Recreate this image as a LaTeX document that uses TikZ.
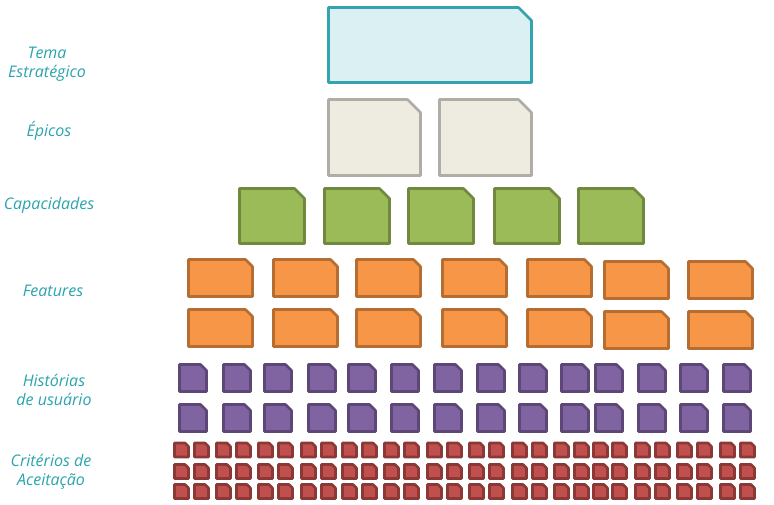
\documentclass[tikz,border=0pt]{standalone}
\usepackage{fontspec}
\setmainfont{Open Sans}
\usetikzlibrary{backgrounds}

\definecolor{labelteal}{HTML}{2AA4AE}
\definecolor{temafill}{HTML}{DAF0F3}
\definecolor{temaline}{HTML}{35A3AD}
\definecolor{epicofill}{HTML}{EEECE1}
\definecolor{epicoline}{HTML}{B0ADA6}
\definecolor{capfill}{HTML}{9BBB59}
\definecolor{capline}{HTML}{71893F}
\definecolor{featfill}{HTML}{F79646}
\definecolor{featline}{HTML}{B66D31}
\definecolor{storyfill}{HTML}{8064A2}
\definecolor{storyline}{HTML}{5C4776}
\definecolor{critfill}{HTML}{C0504D}
\definecolor{critline}{HTML}{8C3836}

\tikzset{
	% card with the top right corner cut off: fill, line, cut
	card/.style n args={3}{rectangle, inner sep=0pt, outer sep=0pt,
		append after command={\pgfextra{\draw[line width=2.6pt, line join=round, fill=#1, draw=#2]
			(\tikzlastnode.south west) -- (\tikzlastnode.north west)
			-- ([xshift=-#3]\tikzlastnode.north east) -- ([yshift=-#3]\tikzlastnode.north east)
			-- (\tikzlastnode.south east) -- cycle;}}},
	level/.style={text=labelteal, align=center, font=\itshape\fontsize{16}{19}\selectfont},
}

\begin{document}
\begin{tikzpicture}[x=1pt, y=-1pt, background rectangle/.style={fill=white}, show background rectangle, inner frame sep=0pt]

	\useasboundingbox (0,0) rectangle (774,505);

	% styles of the six levels
	\tikzset{
		tema/.style={card={temafill}{temaline}{13pt}, minimum width=203pt, minimum height=75pt},
		epico/.style={card={epicofill}{epicoline}{13pt}, minimum width=92pt, minimum height=76pt},
		capac/.style={card={capfill}{capline}{10pt}, minimum width=65pt, minimum height=55pt},
		feat/.style={card={featfill}{featline}{7pt}, minimum width=64pt, minimum height=37pt},
		story/.style={card={storyfill}{storyline}{6pt}, minimum width=27pt, minimum height=27pt},
		crit/.style={card={critfill}{critline}{3.5pt}, minimum width=14pt, minimum height=14pt},
	}

	% Text nodes
	\node[level] (ltema) at (47, 64) {Tema\\Estratégico};
	\node[level] (lepico) at (49, 131) {Épicos};
	\node[level] (lcapac) at (49, 205) {Capacidades};
	\node[level] (lfeat) at (53, 291) {Features};
	\node[level] (lstory) at (54, 390) {Histórias\\de usuário};
	\node[level] (lcrit) at (51, 472) {Critérios de\\Aceitação};

	% tema estrategico
	\node[tema] (tema) at (430, 45) {};

	% epicos
	\node[epico] (epico1) at (374.5, 137.5) {};
	\node[epico] (epico2) at (485.5, 137.5) {};

	% capacidades
	\foreach \x [count=\i] in {238, 323, 407, 493, 577}
		\node[capac] (capac\i) at (\x+34, 216) {};

	% features, two rows
	\foreach \x/\dy [count=\i] in {187/0, 272/0, 355/0, 441/0, 526/0, 603/2, 687/2} {
		\node[feat] (feata\i) at (\x+33.5, 278+\dy) {};
		\node[feat] (featb\i) at (\x+33.5, 328+\dy) {};
	}

	% historias de usuario, two rows
	\foreach \x [count=\i] in {178, 222, 263, 307, 347, 390, 433, 476, 518, 560, 594, 637, 679, 722} {
		\node[story] (storya\i) at (\x+15, 378) {};
		\node[story] (storyb\i) at (\x+15, 418) {};
	}

	% criterios de aceitacao, three rows
	\foreach \x [count=\i] in {173, 193, 215, 235, 257, 277, 300, 320, 341, 361, 383, 403, 426, 446, 468, 488, 511, 531, 553, 573, 592, 611, 634, 654, 676, 696, 719, 739} {
		\node[crit] (crita\i) at (\x+8.5, 450) {};
		\node[crit] (critb\i) at (\x+8.5, 471.5) {};
		\node[crit] (critc\i) at (\x+8.5, 491.5) {};
	}
\end{tikzpicture}
\end{document}
